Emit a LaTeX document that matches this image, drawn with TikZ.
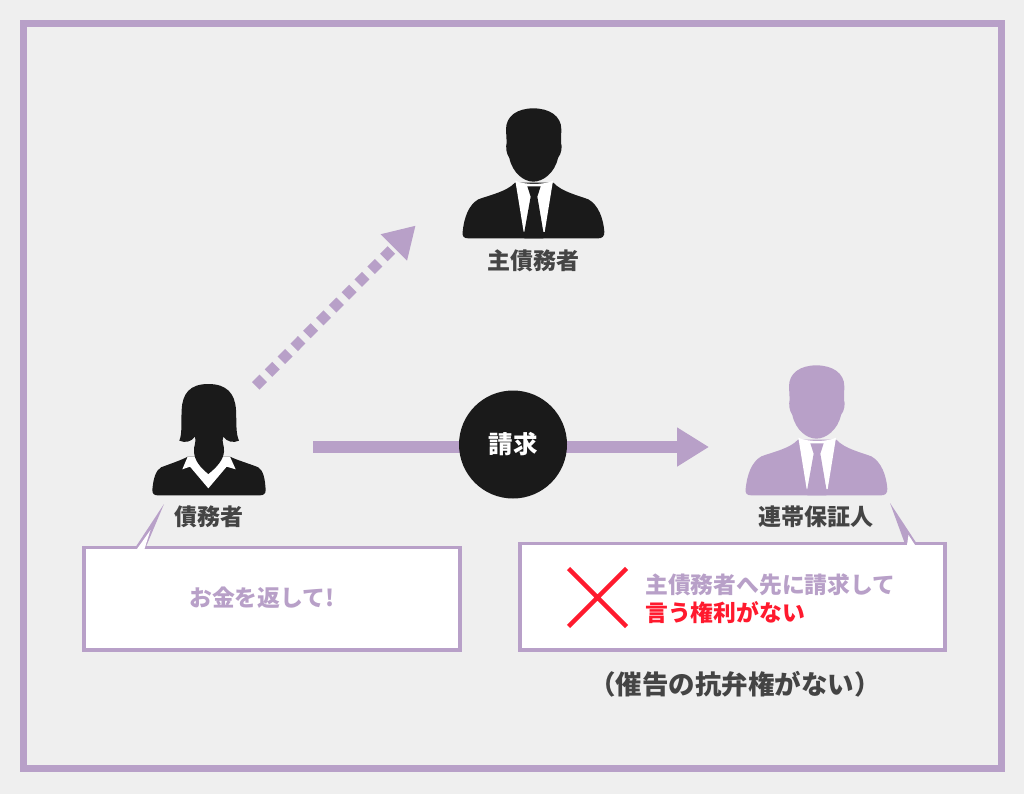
\documentclass[tikz,border=0pt]{standalone}
\usepackage{fontspec}
\setmainfont{Noto Sans CJK JP}
\usetikzlibrary{arrows.meta}
\definecolor{lila}{HTML}{B8A0C8}
\definecolor{bgg}{HTML}{EFEFEF}
\definecolor{ink}{HTML}{1A1A1A}
\definecolor{lab}{HTML}{444444}
\definecolor{crossred}{HTML}{FF1A2E}
\tikzset{
  namelabel/.style={font=\fontsize{23}{26}\selectfont\bfseries,text=lab,inner sep=0pt},
  saylabel/.style={font=\fontsize{22.8}{27}\selectfont\bfseries,text=lila,inner sep=0pt,anchor=west},
  callout/.style={draw=lila,fill=white,line width=3.8pt},
  tailouter/.style={fill=lila},
  tailinner/.style={fill=white},
  bigarrow/.style={draw=lila,line width=12pt,-{Triangle[length=32pt,width=37pt]}},
  dotarrow/.style={draw=lila,line width=10.6pt,dash pattern=on 10.6pt off 7.55pt,-{Triangle[length=31pt,width=35pt]}},
}
% #1,#2 shift, #3 colour: drawn in 3x zoom units
\newcommand\drawman[3]{%
\begin{scope}[shift={(#1,#2)},x=0.33333pt,y=-0.33333pt]
\fill[#3] (68,425) .. controls (72,385) and (85,345) .. (115,328) .. controls (150,315) and (200,305) .. (225,278) -- (340,278) .. controls (365,305) and (410,315) .. (445,328) .. controls (475,345) and (490,385) .. (493,425) .. controls (494,440) and (485,445) .. (475,445) -- (85,445) .. controls (72,445) and (66,440) .. (68,425) -- cycle;
\fill[white] (226,272) .. controls (250,285) and (315,285) .. (339,272) -- (314,426) -- (251,426) -- cycle;
\fill[#3] (262,289) -- (302,289) -- (292,320) -- (310,426) -- (310,445) -- (253,445) -- (253,426) -- (272,320) -- cycle;
\fill[#3] (280,55) .. controls (232,55) and (198,78) .. (198,118) -- (200,158) .. controls (197,170) and (198,190) .. (208,204) .. controls (218,250) and (252,275) .. (280,275) .. controls (308,275) and (344,250) .. (354,204) .. controls (365,190) and (367,170) .. (363,158) -- (364,118) .. controls (364,78) and (328,55) .. (280,55) -- cycle;
\end{scope}}
\begin{document}
\begin{tikzpicture}[x=1pt,y=-1pt]
\useasboundingbox (0,0) rectangle (1024,794);
\fill[bgg] (0,0) rectangle (1024,794);
\draw[lila,line width=6.5pt] (23.5,23.5) rectangle (1001.5,768.5);

% people
\drawman{440}{90}{ink}
\drawman{723}{347}{lila}
\begin{scope}[shift={(145,380)},x=0.33333pt,y=-0.33333pt]
\fill[ink] (22,330) .. controls (25,295) and (32,272) .. (48,262) .. controls (80,250) and (110,240) .. (128,230) -- (255,230) .. controls (275,240) and (310,250) .. (340,262) .. controls (355,272) and (360,295) .. (362,330) .. controls (362,342) and (355,346) .. (345,346) -- (38,346) .. controls (28,346) and (22,342) .. (22,330) -- cycle;
\fill[white] (128,230) -- (112,268) -- (135,260) -- (190,325) -- (245,260) -- (272,268) -- (255,230) -- cycle;
\fill[ink] (190,12) .. controls (135,12) and (112,40) .. (110,90) .. controls (108,130) and (112,160) .. (103,182) .. controls (120,190) and (140,185) .. (150,170) .. controls (155,185) and (145,200) .. (147,215) .. controls (148,240) and (165,262) .. (190,282) .. controls (215,262) and (235,240) .. (237,215) .. controls (240,200) and (228,185) .. (235,170) .. controls (245,185) and (265,190) .. (282,182) .. controls (272,160) and (275,130) .. (273,90) .. controls (270,40) and (245,12) .. (190,12) -- cycle;
\end{scope}

% connectors
\coordinate (debtorout) at (313,447);
\coordinate (guarantorin) at (709,447);
\coordinate (dotstart) at (255.7,385.9);
\coordinate (primaryin) at (415.7,225.5);
\draw[dotarrow] (dotstart) -- (primaryin);
\draw[bigarrow] (debtorout) -- (guarantorin);
\node[circle,fill=ink,minimum size=108pt,inner sep=0pt,text=white,font=\fontsize{24.5}{28}\selectfont\bfseries] (claim) at (513,444.5) {請求};

% labels
\node[namelabel] (primary) at (533,261) {主債務者};
\node[namelabel] (debtor) at (209,517) {債務者};
\node[namelabel] (guarantor) at (816,517) {連帯保証人};

% callouts
\draw[callout] (84,547.5) rectangle (460,650);
\fill[tailouter] (164,504) -- (135,548) -- (145.5,548) -- cycle;
\fill[tailinner] (137,549) -- (144.5,549) -- (150.5,530) -- cycle;
\draw[callout] (520,543.5) rectangle (945,650);
\fill[tailouter] (890,503) -- (905,544) -- (917,544) -- cycle;
\fill[tailinner] (907,545) -- (915,545) -- (908.5,535) -- cycle;

\node[saylabel] (sayleft) at (189,598) {お金を返して!};
\draw[crossred,line width=4.5pt] (568.5,568.5) -- (626.5,626.5) (626.5,568.5) -- (568.5,626.5);
\node[saylabel] (sayone) at (645,585) {主債務者へ先に請求して};
\node[saylabel,text=crossred] (saytwo) at (645,613) {言う権利がない};
\node[font=\fontsize{26.5}{30}\selectfont\bfseries,text=lab,inner sep=0pt] (note) at (735,684) {（催告の抗弁権がない）};
\end{tikzpicture}
\end{document}
